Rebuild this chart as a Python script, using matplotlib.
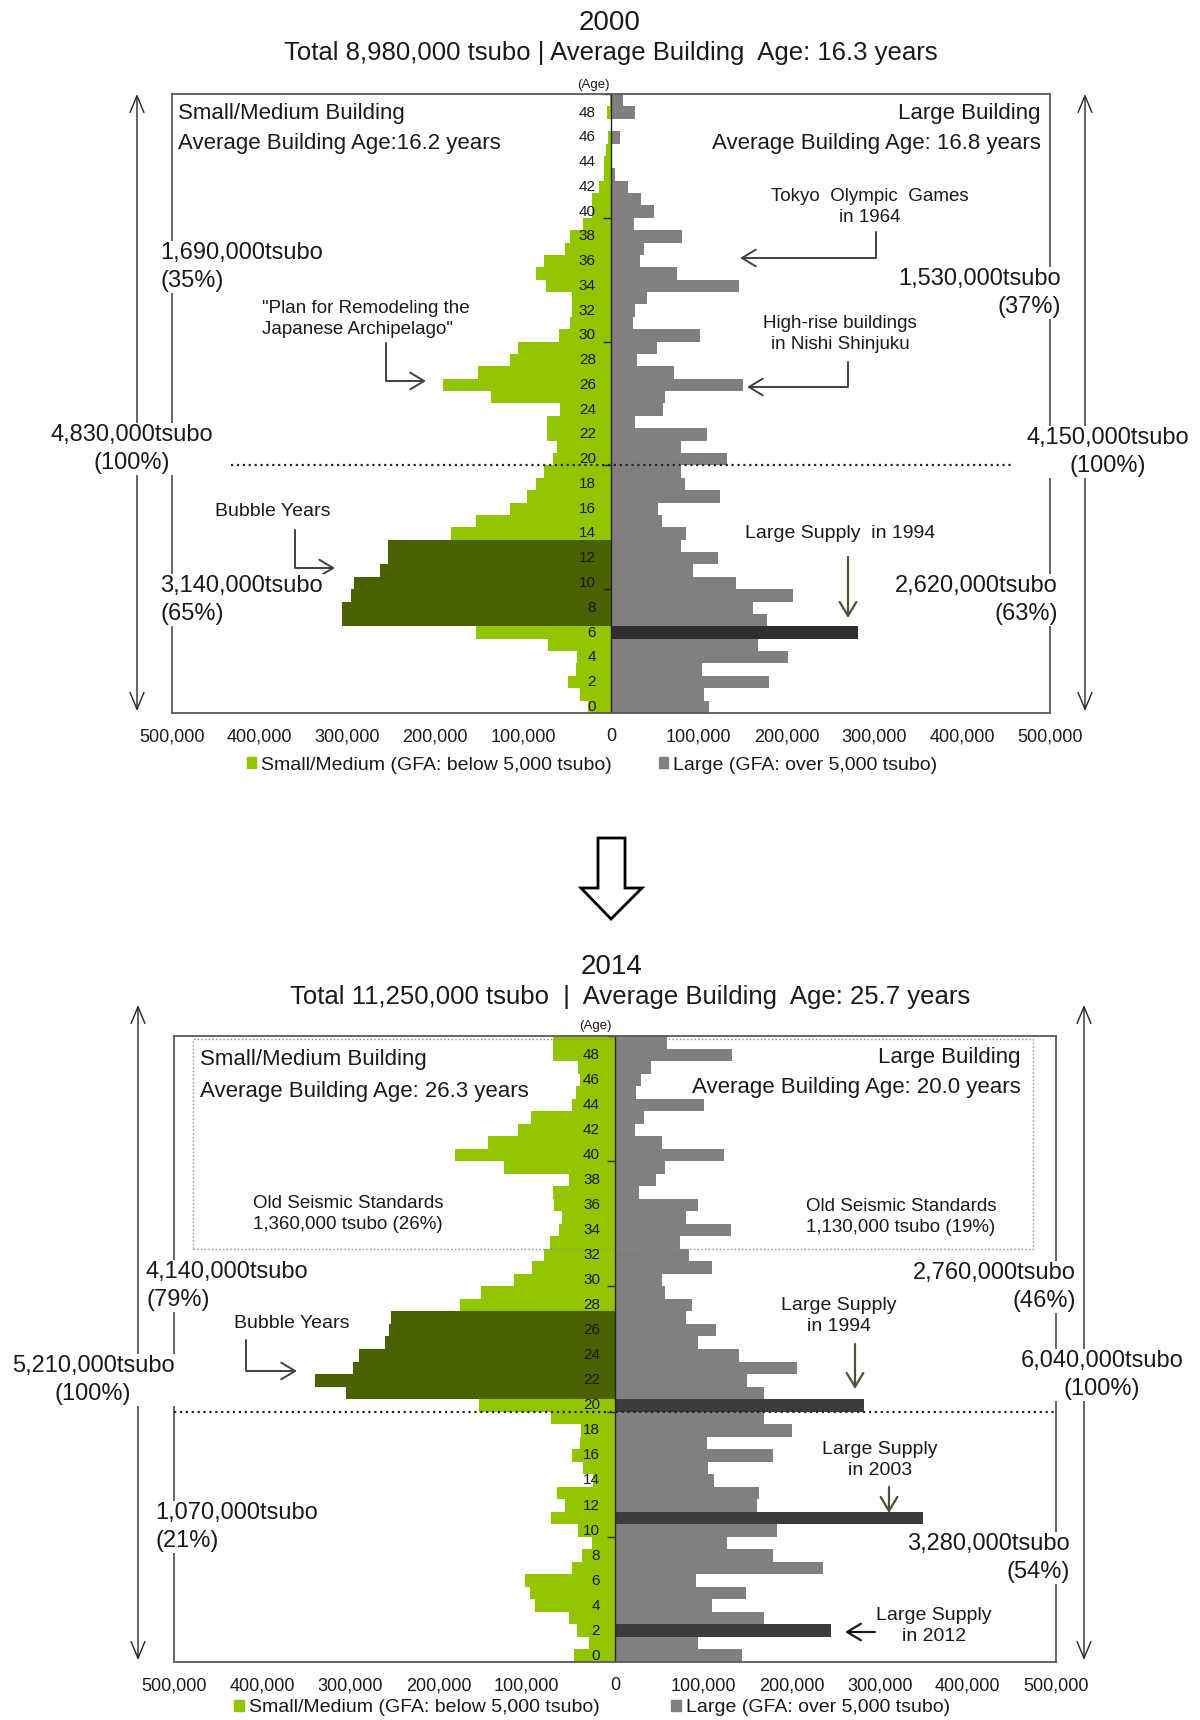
import matplotlib.pyplot as plt
from matplotlib.patches import FancyArrowPatch, Polygon, Rectangle, Patch
import numpy as np

plt.rcParams['font.family'] = ['Liberation Sans', 'DejaVu Sans']

# building age 0..49, floor area in thousand tsubo
ages = np.arange(50)

small_2000 = [26, 35, 49, 40, 38, 72, 154, 306, 306, 296,
              292, 263, 254, 254, 182, 153, 115, 95, 85, 76,
              66, 61, 73, 73, 58, 136, 191, 151, 115, 106,
              59, 47, 44, 44, 74, 85, 76, 52, 47, 32,
              21, 21, 13, 7.6, 7.6, 5.7, 3, 0, 4.5, 1]
large_2000 = [112, 106, 180, 104, 202, 168, 281, 178, 162, 207,
              142, 93, 122, 80, 86, 58, 54, 124, 84, 80,
              132, 80, 110, 28, 59, 62, 150, 72, 30, 52,
              101, 25, 28, 41, 146, 75, 33, 38, 81, 26,
              49, 34, 20, 5, 1, 1, 10.6, 1, 28, 14]
small_2014 = [46, 30, 43, 52, 91, 96, 102, 49, 37, 26,
              42, 72, 57, 66, 25, 36, 49, 40, 38, 72,
              154, 305, 340, 297, 290, 261, 256, 254, 176, 152,
              115, 94, 81, 74, 63, 60, 69, 70, 52, 126,
              181, 144, 110, 95, 49, 44, 40, 42, 70, 70]
large_2014 = [144, 94, 245, 169, 110, 149, 92, 236, 179, 127,
              184, 349, 161, 163, 112, 106, 179, 104, 201, 169,
              282, 169, 150, 206, 141, 94, 115, 80, 87, 57,
              53, 110, 84, 74, 131, 80, 94, 27, 46, 57,
              124, 53, 23, 33, 101, 24, 29, 41, 133, 59]

bubble_2000 = [7, 8, 9, 10, 11, 12, 13]
supply_2000 = [6]
bubble_2014 = [21, 22, 23, 24, 25, 26, 27]
supply_2014 = [20, 11, 2]

xticks = [-500000, -400000, -300000, -200000, -100000, 0,
          100000, 200000, 300000, 400000, 500000]

GREEN = '#92C400'
DARK_GREEN = '#4A6100'
GRAY = '#808080'
TXT = '#1a1a1a'

W, H = 1200, 1720
fig = plt.figure(figsize=(12, 17.2), dpi=100)


def fx(x):
    return x / W


def fy(y):
    return 1 - y / H


def panel(left, top, right, bottom, small, large, bubble, supply, supply_color):
    ax = fig.add_axes([fx(left), fy(bottom), (right - left) / W, (bottom - top) / H])
    sc = [DARK_GREEN if a in bubble else GREEN for a in ages]
    lc = [supply_color if a in supply else GRAY for a in ages]
    ax.barh(ages, -np.array(small) * 1000, height=1.0, color=sc, lw=0)
    ax.barh(ages, np.array(large) * 1000, height=1.0, color=lc, lw=0)
    ax.set_xlim(-500000, 500000)
    ax.set_ylim(-0.5, 49.5)
    ax.set_xticks(xticks)
    ax.set_xticklabels([f'{abs(v):,}' for v in xticks])
    ax.set_yticks([])
    ax.tick_params(axis='x', length=0, pad=11, labelsize=13, labelcolor=TXT)
    for s in ax.spines.values():
        s.set_color('#595959')
        s.set_linewidth(1.3)
    ax.axvline(0, color='#262626', lw=1)
    ax.hlines(np.arange(9.5, 50, 10), -9000, 0, color='#262626', lw=1)
    for a in ages[::2]:
        ax.text(-17000, a, str(a), ha='right', va='center', fontsize=11, color=TXT, zorder=5)
    return ax


def label(x, y, s, size=17, ha='left', box=False, **kw):
    bb = dict(facecolor='white', edgecolor='none', pad=1) if box else None
    fig.text(fx(x), fy(y), s, ha=ha, va='center', fontsize=size, color=TXT,
             multialignment=ha, bbox=bb, linespacing=1.35, **kw)


def span_arrow(x, y0, y1):
    fig.add_artist(FancyArrowPatch((fx(x), fy(y0)), (fx(x), fy(y1)), transform=fig.transFigure,
                                   arrowstyle='<->,head_length=0.6,head_width=0.25',
                                   mutation_scale=20, lw=1, color='#262626',
                                   shrinkA=0, shrinkB=0))


def bent_arrow(x0, y0, x1, y1, color='#404040'):
    fig.add_artist(FancyArrowPatch((fx(x0), fy(y0)), (fx(x1), fy(y1)), transform=fig.transFigure,
                                   arrowstyle='->,head_length=0.5,head_width=0.3',
                                   connectionstyle='angle,angleA=90,angleB=0,rad=0',
                                   mutation_scale=20, lw=1.4, color=color,
                                   shrinkA=0, shrinkB=0))


def straight_arrow(x0, y0, x1, y1, color='#404040'):
    fig.add_artist(FancyArrowPatch((fx(x0), fy(y0)), (fx(x1), fy(y1)), transform=fig.transFigure,
                                   arrowstyle='->,head_length=0.5,head_width=0.3',
                                   mutation_scale=20, lw=1.6, color=color,
                                   shrinkA=0, shrinkB=0))


def legend(x, y, spacing):
    fig.legend(handles=[Patch(color=GREEN, label='Small/Medium (GFA: below 5,000 tsubo)'),
                        Patch(color=GRAY, label='Large (GFA: over 5,000 tsubo)')],
               loc='center', bbox_to_anchor=(fx(x), fy(y)), ncol=2, frameon=False,
               fontsize=14, handlelength=0.5, handleheight=0.5, handletextpad=0.25,
               columnspacing=spacing, labelcolor=TXT)


# ---------------- 2000 ----------------
ax1 = panel(171.7, 94, 1050, 713, small_2000, large_2000, bubble_2000, supply_2000, '#2E2E2E')
ax1.hlines(19.5, -432000, 458000, linestyles=':', color='#262626', lw=1.6, zorder=4)

label(610, 23, '2000', size=20, ha='center')
label(611, 53, 'Total 8,980,000 tsubo | Average Building  Age: 16.3 years', size=18.5, ha='center')
label(593, 85, '(Age)', size=9.5, ha='center')

label(178, 113, 'Small/Medium Building', size=16)
label(178, 143, 'Average Building Age:16.2 years', size=16)
label(1041, 114, 'Large Building', size=16, ha='right')
label(1041, 143, 'Average Building Age: 16.8 years', size=16, ha='right')

span_arrow(137, 94, 711)
span_arrow(1085, 94, 711)
label(132, 449, '4,830,000tsubo\n(100%)', ha='center', box=True)
label(1108, 452, '4,150,000tsubo\n(100%)', ha='center', box=True)
label(160, 267, '1,690,000tsubo\n(35%)', box=True)
label(160, 600, '3,140,000tsubo\n(65%)', box=True)
label(1061, 293, '1,530,000tsubo\n(37%)', ha='right', box=True)
label(1058, 600, '2,620,000tsubo\n(63%)', ha='right', box=True)

label(870, 207, 'Tokyo  Olympic  Games\nin 1964', size=13.5, ha='center')
bent_arrow(876, 232, 740, 258)
label(840, 334, 'High-rise buildings\nin Nishi Shinjuku', size=13.5, ha='center')
bent_arrow(848, 362, 747, 387)
label(262, 319, '"Plan for Remodeling the\nJapanese Archipelago"', size=13.5)
bent_arrow(386, 343, 426, 381)
label(215, 512, 'Bubble Years', size=14)
bent_arrow(295, 530, 335, 568)
label(840, 534, 'Large Supply  in 1994', size=14, ha='center')
straight_arrow(848, 557, 848, 618, color='#4A5238')
legend(592, 765, 2.4)

# arrow between the two charts
fig.add_artist(Polygon([(fx(598), fy(838)), (fx(625), fy(838)), (fx(625), fy(888)),
                        (fx(642), fy(888)), (fx(611), fy(919)), (fx(581), fy(888)),
                        (fx(598), fy(888))], closed=True, transform=fig.transFigure,
                       facecolor='white', edgecolor='black', lw=2))

# ---------------- 2014 ----------------
ax2 = panel(174, 1036, 1056, 1662, small_2014, large_2014, bubble_2014, supply_2014, '#3C3C3C')
ax2.hlines(19.5, -500000, 500000, linestyles=':', color='#262626', lw=1.6, zorder=4)
ax2.add_patch(Rectangle((-479000, 32.5), 953000, 16.76, fill=False, ls=':',
                        ec='#8C8C8C', lw=1, zorder=4))

label(612, 967, '2014', size=20, ha='center')
label(630, 997, 'Total 11,250,000 tsubo  |  Average Building  Age: 25.7 years', size=18.5, ha='center')
label(595, 1026, '(Age)', size=9.5, ha='center')

label(200, 1060, 'Small/Medium Building', size=16)
label(200, 1091, 'Average Building Age: 26.3 years', size=16)
label(1021, 1057, 'Large Building', size=16, ha='right')
label(1021, 1088, 'Average Building Age: 20.0 years', size=16, ha='right')

label(348, 1214, 'Old Seismic Standards\n1,360,000 tsubo (26%)', size=13.5, ha='center')
label(901, 1217, 'Old Seismic Standards\n1,130,000 tsubo (19%)', size=13.5, ha='center')

span_arrow(138, 1005, 1660)
span_arrow(1084, 1005, 1660)
label(93, 1380, '5,210,000tsubo\n(100%)', ha='center', box=True)
label(1102, 1375, '6,040,000tsubo\n(100%)', ha='center', box=True)
label(146, 1286, '4,140,000tsubo\n(79%)', box=True)
label(155, 1527, '1,070,000tsubo\n(21%)', box=True)
label(1076, 1287, '2,760,000tsubo\n(46%)', ha='right', box=True)
label(1070, 1558, '3,280,000tsubo\n(54%)', ha='right', box=True)

label(234, 1323, 'Bubble Years', size=14)
bent_arrow(246, 1340, 297, 1371)
label(839, 1316, 'Large Supply\nin 1994', size=14, ha='center')
straight_arrow(855, 1344, 855, 1389, color='#4A5238')
label(880, 1460, 'Large Supply\nin 2003', size=14, ha='center')
straight_arrow(889, 1487, 889, 1513, color='#4A5238')
label(934, 1626, 'Large Supply\nin 2012', size=14, ha='center')
straight_arrow(875, 1632, 845, 1632, color='#1a1a1a')
legend(592, 1708, 3.7)

fig.savefig('out.png', dpi=100)
